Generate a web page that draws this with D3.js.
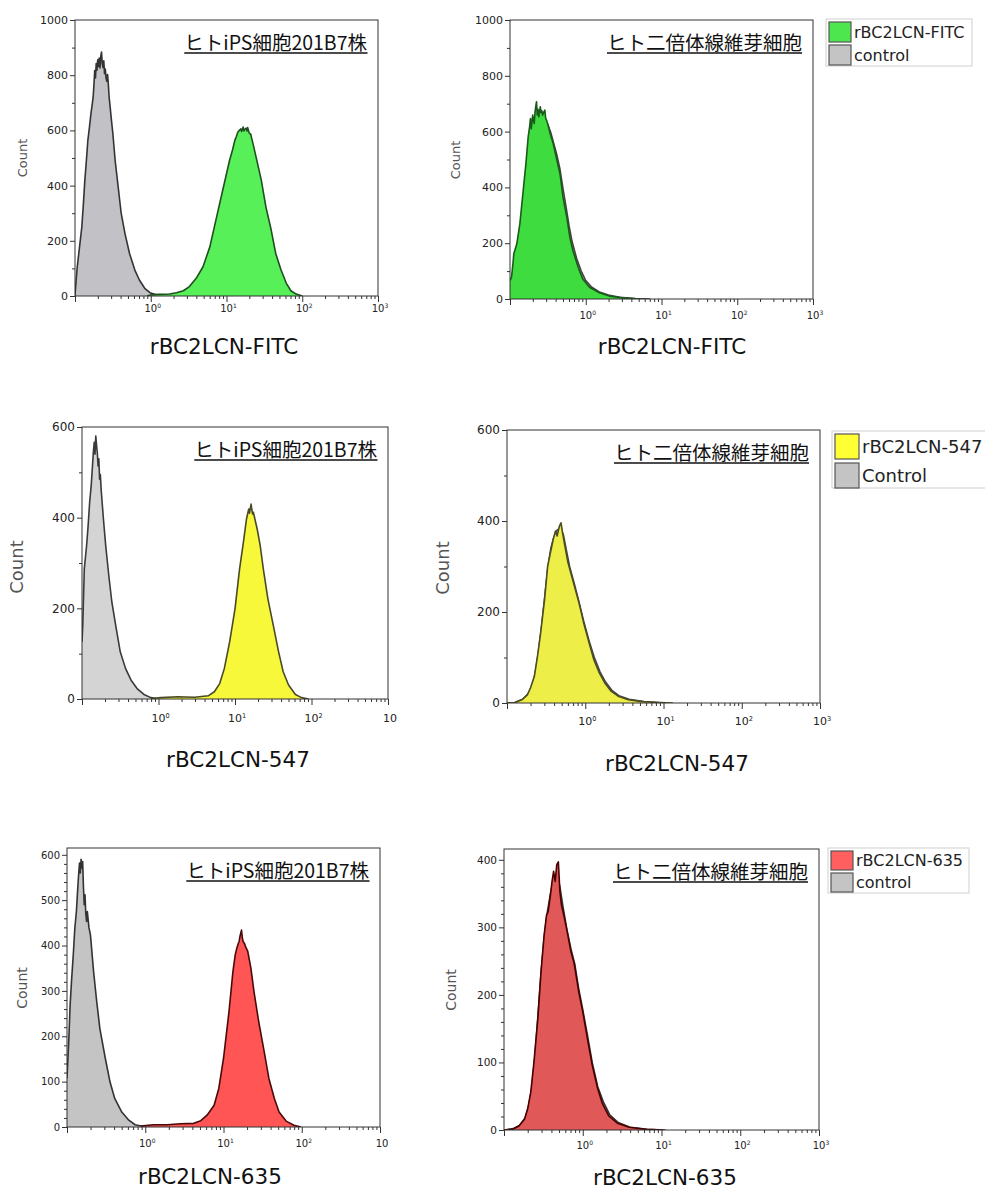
<!DOCTYPE html>
<html>
<head>
<meta charset="utf-8">
<script src="https://cdn.jsdelivr.net/npm/d3@7"></script>
<style>
  body { margin: 0; background: #fff; }
  svg { display: block; }
</style>
</head>
<body>
<svg id="chart" width="985" height="1191"></svg>
<script>
// ---- data -------------------------------------------------------------
// cell lines (panel titles) and lectin probes (x labels)
const cellLines = ["ヒトiPS細胞201B7株", "ヒト二倍体線維芽細胞"];
const probes = ["rBC2LCN-FITC", "rBC2LCN-547", "rBC2LCN-635"];
const legendNames = [["rBC2LCN-FITC", "control"], ["rBC2LCN-547", "Control"], ["rBC2LCN-635", "control"]];

// axis ticks
const decades = [0.1, 1, 10, 100, 1000];
const decadeExp = ["", "0", "1", "2", "3"];
const countTicks1000 = [0, 200, 400, 600, 800, 1000];
const countTicks600 = [0, 200, 400, 600];
const countTicks600b = [0, 100, 200, 300, 400, 500, 600];
const countTicks400 = [0, 100, 200, 300, 400];

// histograms: [log10 intensity, count]
const ipsCtrlFITC = [[-1.00,0],[-0.99,40],[-0.97,106],[-0.94,178],[-0.91,250],[-0.89,330],[-0.87,420],[-0.85,490],[-0.83,565],[-0.81,610],[-0.79,660],[-0.77,700],[-0.76,722],[-0.75,765],[-0.74,817],[-0.73,790],[-0.72,842],[-0.71,818],[-0.70,856],[-0.69,832],[-0.68,862],[-0.67,826],[-0.66,868],[-0.65,884],[-0.64,842],[-0.63,828],[-0.62,852],[-0.61,805],[-0.60,822],[-0.59,790],[-0.58,778],[-0.57,802],[-0.56,768],[-0.55,722],[-0.54,696],[-0.52,640],[-0.50,588],[-0.47,491],[-0.43,395],[-0.39,299],[-0.34,226],[-0.28,154],[-0.21,94],[-0.15,58],[-0.08,28],[-0.01,12],[0.08,4],[0.16,0]];
const ipsFITC = [[-0.05,0],[0.00,4],[0.10,6],[0.25,7],[0.34,12],[0.43,19],[0.51,34],[0.60,64],[0.69,106],[0.78,178],[0.86,275],[0.95,383],[1.04,491],[1.08,530],[1.11,564],[1.13,578],[1.15,594],[1.17,600],[1.19,606],[1.20,596],[1.21,603],[1.22,612],[1.23,598],[1.24,604],[1.26,608],[1.27,598],[1.28,610],[1.30,590],[1.32,586],[1.33,574],[1.35,552],[1.39,504],[1.46,419],[1.52,323],[1.59,239],[1.65,154],[1.72,94],[1.79,46],[1.85,19],[1.92,7],[2.00,0]];
const fibCtrlFITC = [[-1.00,55],[-0.97,85],[-0.94,140],[-0.90,200],[-0.86,270],[-0.82,370],[-0.78,470],[-0.75,560],[-0.72,610],[-0.69,630],[-0.65,650],[-0.60,655],[-0.55,645],[-0.50,625],[-0.46,595],[-0.42,555],[-0.38,515],[-0.34,465],[-0.30,395],[-0.26,330],[-0.22,262],[-0.18,205],[-0.12,145],[-0.06,100],[0.00,66],[0.08,42],[0.18,25],[0.30,14],[0.45,6],[0.65,2],[0.85,0]];
const fibFITC = [[-1.00,66],[-0.98,78],[-0.96,130],[-0.95,162],[-0.91,198],[-0.87,269],[-0.83,377],[-0.79,485],[-0.76,581],[-0.74,620],[-0.73,647],[-0.72,610],[-0.70,659],[-0.69,640],[-0.68,629],[-0.67,670],[-0.66,690],[-0.65,707],[-0.64,660],[-0.63,680],[-0.62,653],[-0.61,672],[-0.60,689],[-0.59,668],[-0.58,675],[-0.57,659],[-0.56,666],[-0.54,677],[-0.53,650],[-0.51,635],[-0.49,615],[-0.47,593],[-0.45,575],[-0.43,557],[-0.39,509],[-0.34,449],[-0.30,365],[-0.25,293],[-0.21,222],[-0.17,174],[-0.10,114],[-0.04,72],[0.05,42],[0.18,22],[0.32,10],[0.49,4],[0.71,0]];

const ipsCtrl547 = [[-1.00,126],[-0.99,163],[-0.97,287],[-0.94,338],[-0.92,382],[-0.90,434],[-0.88,470],[-0.86,522],[-0.85,548],[-0.84,566],[-0.83,540],[-0.82,580],[-0.81,560],[-0.80,544],[-0.79,514],[-0.78,530],[-0.77,485],[-0.76,495],[-0.75,463],[-0.72,397],[-0.69,338],[-0.65,273],[-0.61,214],[-0.56,163],[-0.50,104],[-0.43,67],[-0.36,42],[-0.28,23],[-0.19,10],[-0.10,3],[-0.01,0]];
const ips547 = [[-0.10,1],[0.03,3],[0.25,5],[0.47,4],[0.65,7],[0.73,16],[0.80,34],[0.86,67],[0.93,126],[1.00,199],[1.06,287],[1.11,346],[1.15,397],[1.17,412],[1.18,419],[1.19,410],[1.21,430],[1.22,418],[1.23,408],[1.24,412],[1.26,397],[1.29,375],[1.33,338],[1.37,287],[1.43,221],[1.50,163],[1.57,104],[1.63,60],[1.70,31],[1.79,10],[1.87,3],[1.96,0]];
const fibCtrl547 = [[-1.00,0],[-0.90,1],[-0.80,8],[-0.73,20],[-0.68,38],[-0.64,65],[-0.60,110],[-0.56,165],[-0.52,230],[-0.48,295],[-0.44,340],[-0.40,365],[-0.36,380],[-0.32,385],[-0.28,370],[-0.24,335],[-0.20,300],[-0.14,262],[-0.08,222],[-0.02,180],[0.05,136],[0.12,98],[0.19,68],[0.26,46],[0.34,28],[0.43,16],[0.56,8],[0.75,3],[1.00,0]];
const fib547 = [[-1.00,0],[-0.90,1],[-0.81,7],[-0.74,18],[-0.70,33],[-0.65,59],[-0.61,103],[-0.57,154],[-0.52,227],[-0.48,301],[-0.45,326],[-0.41,359],[-0.38,378],[-0.36,367],[-0.33,389],[-0.31,396],[-0.29,374],[-0.26,345],[-0.22,308],[-0.15,264],[-0.08,220],[-0.02,176],[0.05,132],[0.11,95],[0.18,66],[0.25,44],[0.33,26],[0.42,15],[0.55,7],[0.73,3],[0.95,1],[1.12,0]];

const ipsCtrl635 = [[-1.00,107],[-0.98,180],[-0.96,269],[-0.94,328],[-0.92,379],[-0.90,438],[-0.88,475],[-0.86,534],[-0.85,560],[-0.84,582],[-0.83,560],[-0.82,590],[-0.81,571],[-0.80,585],[-0.79,530],[-0.78,490],[-0.77,512],[-0.76,470],[-0.75,453],[-0.74,475],[-0.72,440],[-0.70,423],[-0.66,342],[-0.62,276],[-0.58,217],[-0.51,151],[-0.45,99],[-0.39,63],[-0.30,33],[-0.21,15],[-0.13,5],[-0.02,1],[0.06,0]];
const ips635 = [[-0.06,2],[0.11,5],[0.28,5],[0.45,7],[0.62,8],[0.71,14],[0.79,26],[0.88,48],[0.94,85],[1.00,151],[1.07,254],[1.12,342],[1.15,380],[1.17,394],[1.19,405],[1.20,409],[1.21,420],[1.23,434],[1.24,418],[1.25,409],[1.27,404],[1.28,398],[1.31,387],[1.35,350],[1.39,298],[1.45,232],[1.52,166],[1.58,107],[1.65,63],[1.71,33],[1.80,13],[1.90,4],[1.99,0]];
const fibCtrl635 = [[-1.00,0],[-0.88,2],[-0.80,7],[-0.73,18],[-0.69,34],[-0.65,60],[-0.61,105],[-0.57,168],[-0.53,232],[-0.49,285],[-0.45,322],[-0.41,350],[-0.37,372],[-0.33,380],[-0.29,360],[-0.25,330],[-0.20,296],[-0.15,268],[-0.10,245],[-0.05,208],[0.00,178],[0.06,140],[0.12,100],[0.19,64],[0.26,42],[0.34,23],[0.45,11],[0.60,4],[0.82,1],[1.05,0]];
const fib635 = [[-1.00,0],[-0.89,1],[-0.81,6],[-0.74,16],[-0.70,31],[-0.66,56],[-0.62,100],[-0.57,165],[-0.53,234],[-0.49,289],[-0.46,318],[-0.44,323],[-0.41,348],[-0.39,368],[-0.37,383],[-0.35,368],[-0.33,393],[-0.31,397],[-0.29,353],[-0.27,333],[-0.24,318],[-0.19,289],[-0.15,264],[-0.11,247],[-0.05,204],[0.00,175],[0.06,135],[0.12,96],[0.19,61],[0.25,39],[0.33,21],[0.44,10],[0.59,4],[0.80,1],[1.01,0]];

// ---- layout of the six panels -----------------------------------------
const panels = [
  {left:75, right:378, top:20, bottom:296, ymax:1000, yTicks:countTicks1000, yMinor:100,
   ctrl:ipsCtrlFITC, stain:ipsFITC, fill:"#58f058", stroke:"#1f4f1f", ctrlFill:"#c2c2c6", ctrlStroke:"#333",
   title:cellLines[0], probe:probes[0], probeX:224, probeY:354,
   tickFont:11, xlabFont:10, xlabDy:16, countX:22, countY:158, countFont:13, cutLast:false},
  {left:510, right:813, top:20, bottom:299, ymax:1000, yTicks:countTicks1000, yMinor:100,
   ctrl:fibCtrlFITC, stain:fibFITC, fill:"#3edc3e", stroke:"#1a5a1a", ctrlFill:"#c2c2c2", ctrlStroke:"#444",
   title:cellLines[1], probe:probes[0], probeX:672, probeY:354,
   tickFont:11, xlabFont:10, xlabDy:20, countX:455, countY:160, countFont:13, cutLast:false,
   legend:{names:legendNames[0], x:826, y:19, w:146, h:47, sw:22, sh:20, gap:3, font:16, swFill:"#4ee64e"}},
  {left:82, right:388, top:427, bottom:699, ymax:600, yTicks:countTicks600, yMinor:100,
   ctrl:ipsCtrl547, stain:ips547, fill:"#f8f83a", stroke:"#4a4a2a", ctrlFill:"#d4d4d4", ctrlStroke:"#3a3a3a",
   title:cellLines[0], probe:probes[1], probeX:238, probeY:767,
   tickFont:12, xlabFont:11, xlabDy:23, countX:16, countY:567, countFont:18, cutLast:true},
  {left:507, right:820, top:430, bottom:703, ymax:600, yTicks:countTicks600, yMinor:100,
   ctrl:fibCtrl547, stain:fib547, fill:"#eeee48", stroke:"#4d4d22", ctrlFill:"#cccccc", ctrlStroke:"#444",
   title:cellLines[1], probe:probes[1], probeX:677, probeY:771,
   tickFont:12, xlabFont:11, xlabDy:22, countX:442, countY:568, countFont:18, cutLast:false,
   legend:{names:legendNames[1], x:832, y:431, w:158, h:57, sw:24, sh:25, gap:4, font:18, swFill:"#ffff33"}},
  {left:67, right:380, top:848, bottom:1127, ymax:615, yTicks:countTicks600b, yMinor:20,
   ctrl:ipsCtrl635, stain:ips635, fill:"#ff5555", stroke:"#4a0a0a", ctrlFill:"#c4c4c4", ctrlStroke:"#333",
   title:cellLines[0], probe:probes[2], probeX:210, probeY:1184,
   tickFont:10, xlabFont:10, xlabDy:20, countX:22, countY:988, countFont:14, cutLast:true},
  {left:504, right:819, top:849, bottom:1130, ymax:416, yTicks:countTicks400, yMinor:20,
   ctrl:fibCtrl635, stain:fib635, fill:"#e05858", stroke:"#4a0000", ctrlFill:"#c4c4c4", ctrlStroke:"#333",
   title:cellLines[1], probe:probes[2], probeX:665, probeY:1185,
   tickFont:10.5, xlabFont:10, xlabDy:19, countX:451, countY:990, countFont:14, cutLast:false,
   legend:{names:legendNames[2], x:828, y:848, w:141, h:45, sw:22, sh:19, gap:3, font:16, swFill:"#ff5f5f"}}
];

const svg = d3.select("#chart");
const latin = "'DejaVu Sans', Verdana, sans-serif";
const cjk = "'Noto Sans CJK JP', sans-serif";

panels.forEach(function(p, i) {
  const g = svg.append("g");

  const x = d3.scaleLog().domain([0.1, 1000]).range([p.left, p.right]);
  const y = d3.scaleLinear().domain([0, p.ymax]).range([p.bottom, p.top]);

  const clipId = "clip" + i;
  g.append("clipPath").attr("id", clipId)
    .append("rect")
      .attr("x", p.left).attr("y", p.top)
      .attr("width", p.right - p.left).attr("height", p.bottom - p.top);

  const area = d3.area()
    .x(d => x(Math.pow(10, d[0])))
    .y0(y(0))
    .y1(d => y(d[1]));
  const line = d3.line()
    .x(d => x(Math.pow(10, d[0])))
    .y(d => y(d[1]));

  const plot = g.append("g").attr("clip-path", `url(#${clipId})`);
  // control underneath, stained sample on top
  [[p.ctrl, p.ctrlFill, p.ctrlStroke], [p.stain, p.fill, p.stroke]].forEach(function(s) {
    plot.append("path").datum(s[0])
      .attr("d", area)
      .attr("fill", s[1]);
    plot.append("path").datum(s[0])
      .attr("d", line)
      .attr("fill", "none")
      .attr("stroke", s[2])
      .attr("stroke-width", 1.6)
      .attr("stroke-linejoin", "round");
  });

  // frame
  g.append("rect")
    .attr("x", p.left).attr("y", p.top)
    .attr("width", p.right - p.left).attr("height", p.bottom - p.top)
    .attr("fill", "none").attr("stroke", "#333").attr("stroke-width", 1);

  // y axis
  const yMinorTicks = d3.range(0, p.ymax + 0.1, p.yMinor).filter(v => p.yTicks.indexOf(v) < 0);
  g.append("g").attr("transform", `translate(${p.left},0)`)
    .call(d3.axisLeft(y).tickValues(yMinorTicks).tickSize(3).tickFormat(""))
    .call(a => a.select(".domain").remove())
    .call(a => a.selectAll("line").attr("stroke", "#333"));
  g.append("g").attr("transform", `translate(${p.left},0)`)
    .call(d3.axisLeft(y).tickValues(p.yTicks).tickSize(5).tickPadding(2).tickFormat(d3.format("d")))
    .call(a => a.select(".domain").remove())
    .call(a => a.selectAll("line").attr("stroke", "#333"))
    .call(a => a.selectAll("text")
      .style("font-family", latin).style("font-size", p.tickFont + "px").attr("fill", "#222"));

  // x axis (log)
  const minorX = x.ticks().filter(v => decades.indexOf(v) < 0);
  g.append("g").attr("transform", `translate(0,${p.bottom})`)
    .call(d3.axisBottom(x).tickValues(minorX).tickSize(3).tickFormat(""))
    .call(a => a.select(".domain").remove())
    .call(a => a.selectAll("line").attr("stroke", "#333"));
  g.append("g").attr("transform", `translate(0,${p.bottom})`)
    .call(d3.axisBottom(x).tickValues(decades).tickSize(6).tickFormat(""))
    .call(a => a.select(".domain").remove())
    .call(a => a.selectAll("line").attr("stroke", "#333"));

  decades.forEach(function(d, k) {
    if (!decadeExp[k]) return;
    const t = g.append("text")
      .attr("x", x(d) + 2)
      .attr("y", p.bottom + p.xlabDy)
      .attr("text-anchor", "middle")
      .style("font-family", latin)
      .style("font-size", p.xlabFont + "px")
      .attr("fill", "#222");
    t.append("tspan").text("10");
    if (!(p.cutLast && k === decades.length - 1)) {
      t.append("tspan").attr("dy", -4).style("font-size", (p.xlabFont * 0.6) + "px").text(decadeExp[k]);
    }
  });

  // y label
  g.append("text")
    .attr("transform", `translate(${p.countX},${p.countY}) rotate(-90)`)
    .attr("text-anchor", "middle")
    .attr("dominant-baseline", "central")
    .style("font-family", latin)
    .style("font-size", p.countFont + "px")
    .attr("fill", "#555")
    .text("Count");

  // x label
  g.append("text")
    .attr("x", p.probeX).attr("y", p.probeY)
    .attr("text-anchor", "middle")
    .style("font-family", latin)
    .style("font-size", "21.5px")
    .attr("fill", "#111")
    .text(p.probe);

  // underlined title inside the plot
  const titleRight = p.right - 11;
  const titleBase = p.top + 30;
  const title = g.append("text")
    .attr("x", titleRight).attr("y", titleBase)
    .attr("text-anchor", "end")
    .style("font-family", cjk)
    .style("font-size", "19.5px")
    .attr("fill", "#111")
    .text(p.title);
  const bb = title.node().getBBox();
  g.append("line")
    .attr("x1", bb.x).attr("x2", bb.x + bb.width)
    .attr("y1", titleBase + 3).attr("y2", titleBase + 3)
    .attr("stroke", "#111").attr("stroke-width", 1.3);

  // legend
  if (p.legend) {
    const L = p.legend;
    const lg = g.append("g");
    lg.append("rect")
      .attr("x", L.x).attr("y", L.y).attr("width", L.w).attr("height", L.h)
      .attr("fill", "#fff").attr("stroke", "#cfcfcf");
    [L.swFill, "#c4c4c4"].forEach(function(c, k) {
      const sy = L.y + 3 + k * (L.sh + L.gap);
      lg.append("rect")
        .attr("x", L.x + 3).attr("y", sy).attr("width", L.sw).attr("height", L.sh)
        .attr("fill", c).attr("stroke", "#555").attr("stroke-width", 1.2);
      lg.append("text")
        .attr("x", L.x + L.sw + 6).attr("y", sy + L.sh / 2)
        .attr("dominant-baseline", "central")
        .style("font-family", latin)
        .style("font-size", L.font + "px")
        .attr("fill", "#222")
        .text(L.names[k]);
    });
  }
});
</script>
</body>
</html>
